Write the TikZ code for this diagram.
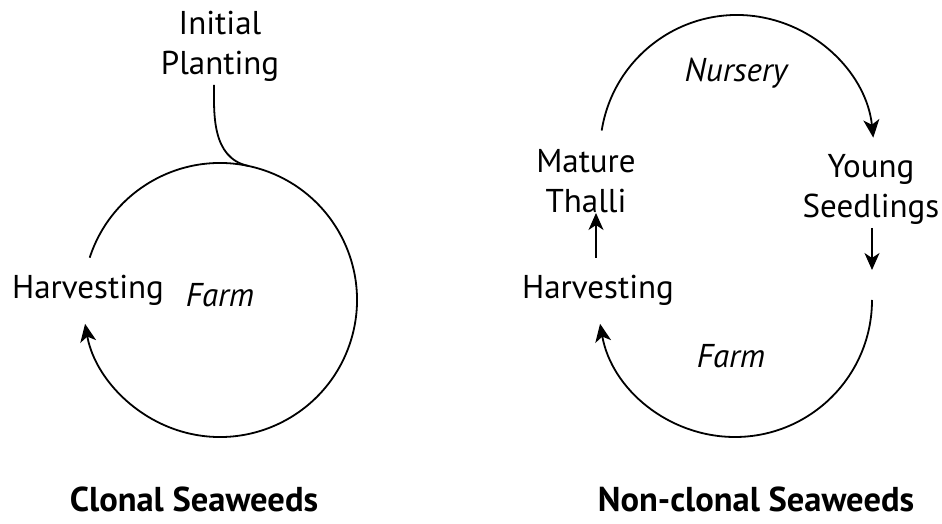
\documentclass[tikz,border=0pt]{standalone}
\usepackage{fontspec}
\setmainfont{PT Sans}
\usetikzlibrary{arrows.meta}

\begin{document}
\begin{tikzpicture}[x=1pt, y=1pt,
  lbl/.style={font=\fontsize{33}{40}\selectfont, inner sep=0pt, anchor=base, align=center},
  stage/.style={lbl, font=\fontsize{33}{40}\selectfont\itshape},
  ttl/.style={lbl, font=\fontsize{34.5}{40}\selectfont\bfseries},
  cyc/.style={line width=1.8pt, -{Stealth[length=18pt, width=16pt, inset=5pt]}},
  link/.style={line width=1.8pt, -{Stealth[length=17pt, width=15pt, inset=5pt]}}]
  \useasboundingbox (0,0) rectangle (942,524);

  % clonal seaweeds
  \coordinate (ringL) at (220,224);
  \node[lbl] (plantL) at (220,449) {Initial\\Planting};
  \node[lbl] (harvL) at (88,225) {Harvesting};
  \node[stage] (farmL) at (220,217) {Farm};
  \node[ttl] (clonal) at (194,12) {Clonal Seaweeds};
  \draw[cyc] ([shift={(162:137)}]ringL) arc[start angle=162, end angle=-170, radius=137];
  \draw[line width=1.8pt, shorten <=10pt] ([xshift=-6pt]plantL.base) to[out=-90, in=168] ([shift={(78:137)}]ringL);

  % non-clonal seaweeds
  \coordinate (ringRtop) at (737,372);
  \coordinate (ringRbot) at (735,224);
  \coordinate (farmRin) at ([shift={(0:137)}]ringRbot);
  \node[stage] (nursery) at (736,442) {Nursery};
  \node[lbl] (mature) at (586,311) {Mature\\Thalli};
  \node[lbl] (young) at (871,306) {Young\\Seedlings};
  \node[lbl] (harvR) at (598,225) {Harvesting};
  \node[stage] (farmR) at (731,156) {Farm};
  \node[ttl] (nonclonal) at (756,12) {Non-clonal Seaweeds};
  \draw[cyc] ([shift={(171:137)}]ringRtop) arc[start angle=171, end angle=6, radius=137];
  \draw[cyc] (farmRin) arc[start angle=0, end angle=-170, radius=137];
  \draw[link] ([xshift=-2pt, yshift=41pt]harvR.base) -- ([xshift=-2pt]harvR.base |- mature.base);
  \draw[link, shorten <=10pt] (young.base -| farmRin) -- ([yshift=30pt]farmRin);
\end{tikzpicture}
\end{document}
